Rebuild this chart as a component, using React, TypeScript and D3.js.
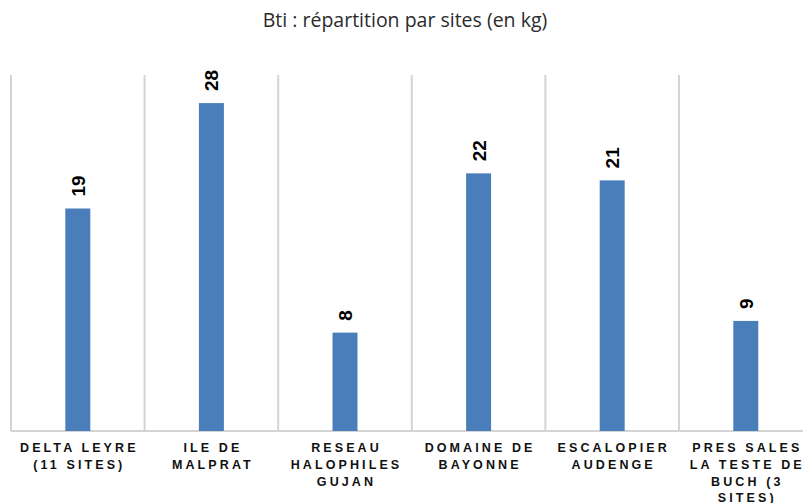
import { useEffect, useRef } from "react";
import * as d3 from "d3";

// Data
const sites = [
	"DELTA LEYRE (11 SITES)",
	"ILE DE MALPRAT",
	"RESEAU HALOPHILES GUJAN",
	"DOMAINE DE BAYONNE",
	"ESCALOPIER AUDENGE",
	"PRES SALES LA TESTE DE BUCH (3 SITES)",
];
const siteLines = [
	["DELTA LEYRE", "(11 SITES)"],
	["ILE DE", "MALPRAT"],
	["RESEAU", "HALOPHILES", "GUJAN"],
	["DOMAINE DE", "BAYONNE"],
	["ESCALOPIER", "AUDENGE"],
	["PRES SALES", "LA TESTE DE", "BUCH (3", "SITES)"],
];
const kg = [19, 28, 8.4, 22, 21.4, 9.4];
const title = "Bti : répartition par sites (en kg)";

const App = () => {
	const svgRef = useRef(null);

	useEffect(() => {
		const width = 803;
		const height = 503;
		const left = 11;
		const step = 133.6;
		const baseline = 431;
		const top = 75;

		const svg = d3.select(svgRef.current).attr("width", width).attr("height", height);
		svg.selectAll("*").remove();

		// band scale for the category slots, another for the bars
		const xSlot = d3
			.scaleBand()
			.domain(sites)
			.range([left, left + step * sites.length])
			.padding(0);
		const xBar = d3
			.scaleBand()
			.domain(sites)
			.range([left, left + step * sites.length])
			.paddingInner(0.813)
			.paddingOuter(0.4065);
		const y = d3.scaleLinear().domain([0, 30.4]).range([baseline, top]);

		// title
		svg
			.append("text")
			.attr("x", 405)
			.attr("y", 27)
			.attr("text-anchor", "middle")
			.style("font-family", "'Open Sans', Lato, sans-serif")
			.style("font-size", "19.5px")
			.style("fill", "#2b2b2b")
			.text(title);

		// vertical separators
		const edges = sites.map((s) => xSlot(s));
		edges.push(left + step * sites.length);
		svg
			.selectAll(".sep")
			.data(edges)
			.enter()
			.append("line")
			.attr("class", "sep")
			.attr("x1", (d) => d)
			.attr("x2", (d) => d)
			.attr("y1", top)
			.attr("y2", baseline)
			.style("stroke", "#d4d4d4")
			.style("stroke-width", 2);

		// baseline
		svg
			.append("line")
			.attr("x1", left)
			.attr("x2", width)
			.attr("y1", baseline)
			.attr("y2", baseline)
			.style("stroke", "#d4d4d4")
			.style("stroke-width", 2);

		// bars
		svg
			.selectAll(".bar")
			.data(kg)
			.enter()
			.append("rect")
			.attr("class", "bar")
			.attr("x", (d, i) => xBar(sites[i]))
			.attr("width", xBar.bandwidth())
			.attr("y", (d) => y(d))
			.attr("height", (d) => baseline - y(d))
			.style("fill", "#4a7ebb");

		// value labels, rotated
		svg
			.selectAll(".val")
			.data(kg)
			.enter()
			.append("text")
			.attr("class", "val")
			.attr("transform", (d, i) => {
				const cx = xBar(sites[i]) + xBar.bandwidth() / 2;
				return `translate(${cx + 7},${y(d) - 12}) rotate(-90)`;
			})
			.style("font-family", "'Liberation Sans', Arial, sans-serif")
			.style("font-weight", "bold")
			.style("font-size", "19px")
			.style("fill", "#000")
			.text((d) => d3.format(".0f")(d));

		// category labels
		const cat = svg
			.selectAll(".cat")
			.data(sites)
			.enter()
			.append("text")
			.attr("class", "cat")
			.attr("text-anchor", "middle")
			.style("font-family", "'Liberation Sans', Arial, sans-serif")
			.style("font-weight", "bold")
			.style("font-size", "12.5px")
			.style("letter-spacing", "3.1px")
			.style("fill", "#111");
		cat
			.selectAll("tspan")
			.data((d, i) => siteLines[i].map((l) => ({ l, s: d })))
			.enter()
			.append("tspan")
			.attr("x", (d) => xSlot(d.s) + step / 2 + 1.5)
			.attr("y", (d, j) => 452 + j * 16.8)
			.text((d) => d.l);

		return () => {
			svg.selectAll("*").remove();
		};
	}, []);

	return (
		<div style={{ position: "absolute", left: 0, top: 0, background: "#fff" }}>
			<svg ref={svgRef}></svg>
		</div>
	);
};

export default App;
